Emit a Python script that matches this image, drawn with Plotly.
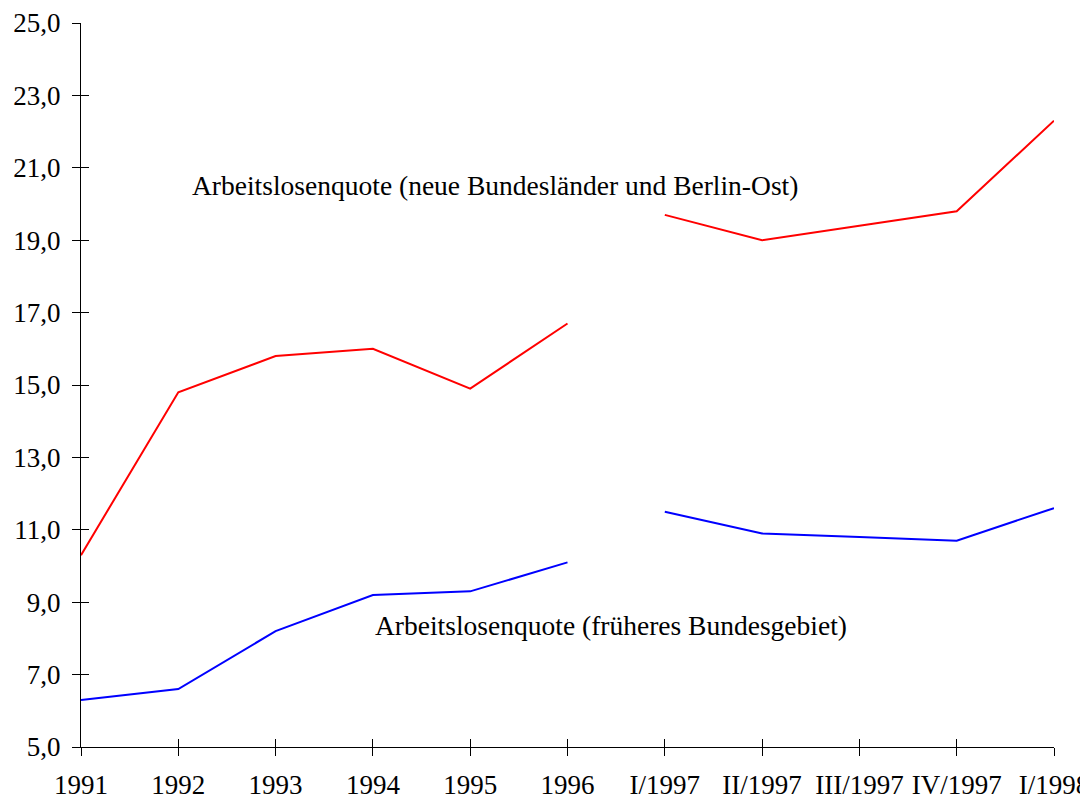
import plotly.graph_objects as go

years = ['1991', '1992', '1993', '1994', '1995', '1996']
quarters = ['I/1997', 'II/1997', 'III/1997', 'IV/1997', 'I/1998']
categories = years + quarters

ost_years = [10.3, 14.8, 15.8, 16.0, 14.9, 16.7]
ost_quarters = [19.7, 19.0, 19.4, 19.8, 22.3]
west_years = [6.3, 6.6, 8.2, 9.2, 9.3, 10.1]
west_quarters = [11.5, 10.9, 10.8, 10.7, 11.6]

label_ost = 'Arbeitslosenquote (neue Bundesländer und Berlin-Ost)'
label_west = 'Arbeitslosenquote (früheres Bundesgebiet)'

font = dict(family='Liberation Serif, Times New Roman, serif', size=27, color='black')
note_font = dict(font, size=27.5)
red = dict(color='#ff0000', width=2)
blue = dict(color='#0000ff', width=2)

fig = go.Figure()
fig.add_trace(go.Scatter(x=years, y=ost_years, mode='lines', line=red))
fig.add_trace(go.Scatter(x=quarters, y=ost_quarters, mode='lines', line=red))
fig.add_trace(go.Scatter(x=years, y=west_years, mode='lines', line=blue))
fig.add_trace(go.Scatter(x=quarters, y=west_quarters, mode='lines', line=blue))

fig.add_annotation(text=label_ost, xref='paper', x=0.112, y=20.5,
                   xanchor='left', yanchor='middle', showarrow=False, font=note_font)
fig.add_annotation(text=label_west, xref='paper', x=0.300, y=8.37,
                   xanchor='left', yanchor='middle', showarrow=False, font=note_font)

# page body has an 8px margin, so the figure is a bit smaller than the window
fig.update_layout(
    width=1080, height=790,
    margin=dict(l=73, r=34, t=15, b=51, autoexpand=False),
    paper_bgcolor='white', plot_bgcolor='white',
    showlegend=False,
    separators=',.',
    font=font,
    xaxis=dict(type='category', categoryorder='array', categoryarray=categories,
               range=[0, len(categories) - 1], showgrid=False, zeroline=False,
               showline=True, linecolor='black', linewidth=1,
               ticks='outside', ticklen=8, tickcolor='black', tickwidth=1,
               ticklabelstandoff=6, tickfont=font),
    yaxis=dict(range=[5, 25], dtick=2, tick0=5, tickformat='.1f',
               showgrid=False, zeroline=False,
               showline=True, linecolor='black', linewidth=1,
               ticks='outside', ticklen=8, tickcolor='black', tickwidth=1,
               ticklabelstandoff=6, tickfont=font),
    # second set of axes only to draw the inner half of the crossing ticks
    xaxis2=dict(overlaying='x', anchor='y', range=[0, len(categories) - 1],
                tickvals=list(range(len(categories))), showticklabels=False,
                ticks='inside', ticklen=8, tickcolor='black', tickwidth=1,
                showgrid=False, zeroline=False, showline=False),
    yaxis2=dict(overlaying='y', anchor='x', side='left', range=[5, 25],
                tickvals=list(range(5, 26, 2)), showticklabels=False,
                ticks='inside', ticklen=8, tickcolor='black', tickwidth=1,
                showgrid=False, zeroline=False, showline=False),
)
fig.add_trace(go.Scatter(x=[None], y=[None], xaxis='x2', yaxis='y2',
                         hoverinfo='skip', showlegend=False))

fig.write_html('out.html')
